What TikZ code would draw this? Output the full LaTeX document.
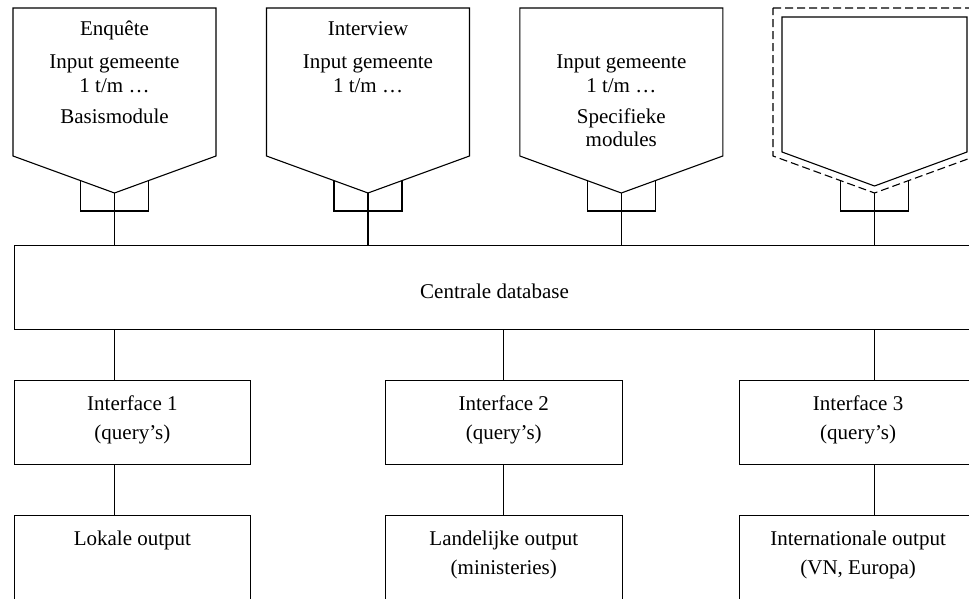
\documentclass[tikz,border=0pt]{standalone}
\usepackage{fontspec}
\setmainfont{Liberation Serif}
\begin{document}
\begin{tikzpicture}[x=1pt,y=-1pt,line width=1.1pt,line join=miter,
  txt/.style={anchor=base,inner sep=0pt,font=\fontsize{21}{25}\selectfont},
  boxnode/.style={draw,inner sep=0pt,anchor=north west,minimum width=236.5pt,minimum height=84pt},
  dashline/.style={dash pattern=on 8pt off 4pt}]
\useasboundingbox (0,0) rectangle (969,599);
\clip (0,0) rectangle (969,599);

% input pentagons
\foreach \i/\c in {1/114.5,2/368,3/621.3,4/874.5}{
  \coordinate (tip\i) at (\c,193);
  \coordinate (brl\i) at ({\c-34},{193-34*37/101.5});
  \coordinate (brr\i) at ({\c+34},{193-34*37/101.5});
  \coordinate (bbl\i) at ({\c-34},211);
  \coordinate (bbr\i) at ({\c+34},211);
}
\foreach \i/\c in {1/114.5,2/368,3/621.3}{
  \draw ({\c-101.5},8) -- ({\c+101.5},8) -- ({\c+101.5},156) -- (tip\i) -- ({\c-101.5},156) -- cycle;
}
% dashed fourth input
\draw[dashline] (773,8) -- (976,8) -- (976,156) -- (tip4) -- (773,156) -- cycle;
\draw (782,17) -- (967,17) -- (967,152) -- (874.5,186) -- (782,152) -- cycle;

% brackets
\foreach \i in {1,2,3,4}{
  \draw (brl\i) -- (bbl\i) -- (bbr\i) -- (brr\i);
}

% texts in inputs
\node[txt] (e1) at (114.5,36) {Enquête};
\node[txt] (e2) at (114.5,68.3) {Input gemeente};
\node[txt] (e3) at (114.5,92.7) {1 t/m …};
\node[txt] (e4) at (114.5,124) {Basismodule};
\node[txt] (i1) at (368,36) {Interview};
\node[txt] (i2) at (368,68.3) {Input gemeente};
\node[txt] (i3) at (368,92.7) {1 t/m …};
\node[txt] (s1) at (621.3,68.3) {Input gemeente};
\node[txt] (s2) at (621.3,92.7) {1 t/m …};
\node[txt] (s3) at (621.3,123.3) {Specifieke};
\node[txt] (s4) at (621.3,146.7) {modules};

% central database
\node[draw,inner sep=0pt,anchor=north west,minimum width=962pt,minimum height=84pt] (db) at (13.6,245) {};
\node[txt] (dbt) at (494.5,298) {Centrale database};

\foreach \i in {1,2,3,4}{
  \draw (tip\i) -- (tip\i |- db.north);
}

% interfaces
\node[boxnode] (if1) at (13.6,380) {};
\node[boxnode] (if2) at (385,380) {};
\node[boxnode] (if3) at (739.3,380) {};
\node[txt] (if1a) at (if1.north |- 0,410) {Interface 1};
\node[txt] (if1b) at (if1.north |- 0,439.5) {(query’s)};
\node[txt] (if2a) at (if2.north |- 0,410) {Interface 2};
\node[txt] (if2b) at (if2.north |- 0,439.5) {(query’s)};
\node[txt] (if3a) at (if3.north |- 0,410) {Interface 3};
\node[txt] (if3b) at (if3.north |- 0,439.5) {(query’s)};

% outputs
\node[boxnode,minimum height=100pt] (out1) at (13.6,515) {};
\node[boxnode,minimum height=100pt] (out2) at (385,515) {};
\node[boxnode,minimum height=100pt] (out3) at (739.3,515) {};
\node[txt] (o1a) at (out1.north |- 0,545) {Lokale output};
\node[txt] (o2a) at (out2.north |- 0,545) {Landelijke output};
\node[txt] (o2b) at (out2.north |- 0,574.5) {(ministeries)};
\node[txt] (o3a) at (out3.north |- 0,545) {Internationale output};
\node[txt] (o3b) at (out3.north |- 0,574.5) {(VN, Europa)};

% connectors
\coordinate (c1) at (114.5,0);
\coordinate (c3) at (874.5,0);
\draw (db.south -| c1) -- (if1.north -| c1);
\draw (if1.south -| c1) -- (out1.north -| c1);
\draw (db.south -| if2.north) -- (if2.north);
\draw (if2.south) -- (out2.north);
\draw (db.south -| c3) -- (if3.north -| c3);
\draw (if3.south -| c3) -- (out3.north -| c3);
\end{tikzpicture}
\end{document}
